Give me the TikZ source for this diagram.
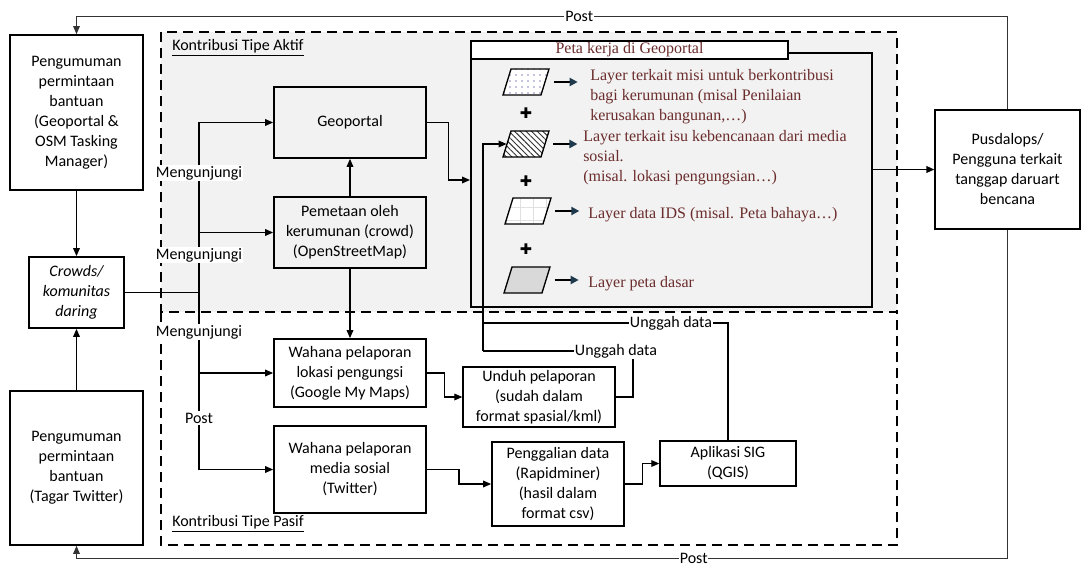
\documentclass[tikz,border=0pt]{standalone}
\usepackage{fontspec}
\setmainfont{Carlito}
\newfontfamily\layerfont{Liberation Serif}
\newfontfamily\symfont{DejaVu Sans}
\usepackage{xcolor}
\usetikzlibrary{arrows.meta}
\usetikzlibrary{calc}
\usetikzlibrary{positioning}
\usetikzlibrary{shapes.geometric}
\usetikzlibrary{patterns.meta}

\definecolor{bgaktif}{HTML}{F2F2F2}
\definecolor{layertxt}{HTML}{6B2C2C}
\definecolor{tipblue}{HTML}{1F3A4D}
\definecolor{dasar}{HTML}{D9D9D9}

\begin{document}
\begin{tikzpicture}[x=0.75pt, y=-0.75pt]

    % Custom styles
    \tikzstyle{box} = [draw, line width=1.3pt, align=center, inner sep=1pt, font=\fontsize{12}{15}\selectfont]
    \tikzstyle{thinbox} = [box, line width=1pt]
    \tikzstyle{arr} = [-{Triangle[length=6pt,width=5pt]}, line width=0.9pt]
    \tikzstyle{line} = [line width=0.9pt]
    \tikzstyle{postline} = [line width=0.7pt, draw=black!80]
    \tikzstyle{lbl} = [fill=white, inner sep=1pt, font=\fontsize{12}{15}\selectfont]
    \tikzstyle{dashbox} = [dash pattern=on 7.5pt off 4.5pt, line width=1.4pt]
    \tikzstyle{layer} = [draw, line width=1pt, trapezium, trapezium left angle=75, trapezium right angle=105, trapezium stretches=true, minimum width=46*0.75pt, minimum height=26*0.75pt, inner sep=2pt]
    \tikzstyle{layertext} = [font=\layerfont\fontsize{12}{15}\selectfont, text=layertxt, align=left, inner sep=0pt]
    \tikzstyle{smallarr} = [-{Triangle[length=6pt,width=6pt,color=tipblue]}, line width=1.6pt]

    \useasboundingbox (0,0) rectangle (1081,567);

    % Contribution areas
    \draw[dashbox, fill=bgaktif] (161,32) rectangle (897,312);
    \draw[dashbox] (161,312) rectangle (897,545);
    \node[anchor=west, inner sep=0pt, font=\fontsize{12}{15}\selectfont] (aktif) at (172,48) {\underline{Kontribusi Tipe Aktif}};
    \node[anchor=west, inner sep=0pt, font=\fontsize{12}{15}\selectfont] (pasif) at (172,524) {\underline{Kontribusi Tipe Pasif}};

    % Define nodes
    \node[box, minimum width=133*0.75pt, minimum height=155*0.75pt] (ann1) at (76.5,112.5) {Pengumuman\\permintaan\\bantuan\\(Geoportal \&\\OSM Tasking\\Manager)};
    \node[box, font=\fontsize{12}{15}\selectfont\itshape, minimum width=95*0.75pt, minimum height=71*0.75pt, below=48.95pt of ann1] (crowd) {Crowds/\\komunitas\\daring};
    \node[box, minimum width=133*0.75pt, minimum height=154*0.75pt, below=45.95pt of crowd] (ann2) {Pengumuman\\permintaan\\bantuan\\(Tagar Twitter)};

    \node[box, minimum width=152*0.75pt, minimum height=71*0.75pt] (geo) at (350,122.5) {Geoportal};
    \node[box, minimum width=152*0.75pt, minimum height=71*0.75pt, below=27.95pt of geo] (osm) {Pemetaan oleh\\kerumunan (crowd)\\(OpenStreetMap)};
    \node[box, minimum width=152*0.75pt, minimum height=68*0.75pt, below=51.95pt of osm] (gmm) {Wahana pelaporan\\lokasi pengungsi\\(Google My Maps)};
    \node[box, minimum width=152*0.75pt, minimum height=87*0.75pt, below=12.95pt of gmm] (twt) {Wahana pelaporan\\media sosial\\(Twitter)};

    \node[thinbox, minimum width=152*0.75pt, minimum height=60*0.75pt] (unduh) at (539,397) {Unduh pelaporan\\(sudah dalam\\format spasial/kml)};
    \node[box, minimum width=132*0.75pt, minimum height=84*0.75pt] (gali) at (558,484) {Penggalian data\\(Rapidminer)\\(hasil dalam\\format csv)};
    \node[thinbox, minimum width=136*0.75pt, minimum height=45*0.75pt] (sig) at (728,463.5) {Aplikasi SIG\\(QGIS)};
    \node[thinbox, fill=white, minimum width=145*0.75pt, minimum height=119*0.75pt] (pusd) at (1007.5,169.5) {Pusdalops/\\Pengguna terkait\\tanggap daruart\\bencana};

    % Peta kerja
    \node[draw, line width=1.5pt, fill=bgaktif, minimum width=401*0.75pt, minimum height=254*0.75pt, inner sep=0pt] (peta) at (671.5,180) {};
    \node[draw, line width=1.2pt, fill=white, minimum width=317*0.75pt, minimum height=18*0.75pt, layertext] (petatitle) at (629.5,50) {Peta kerja di Geoportal};

    \node[layer, preaction={fill=white}, pattern={Dots[distance=4.5pt, radius=0.45pt]}, pattern color=blue!45!black] (l1) at (526,82) {};
    \node[layer, preaction={fill=white}, pattern={Lines[angle=-45, distance=3pt, line width=0.7pt]}, pattern color=black!80] (l2) at (526,144) {};
    \node[layer, preaction={fill=white}, pattern={Hatch[angle=0, distance=10pt, line width=0.5pt]}, pattern color=black!12] (l3) at (528,211) {};
    \node[layer, fill=dasar] (l4) at (527,280) {};

    \foreach \y [count=\i] in {113,181,249}
        \node[inner sep=0pt, font=\symfont\fontsize{11}{11}\selectfont] (plus\i) at (526,\y) {✚};

    \node[layertext, anchor=north west] (t1) at (590,69) {Layer terkait misi untuk berkontribusi\\bagi kerumunan (misal Penilaian\\kerusakan bangunan,…)};
    \node[layertext, anchor=north west] (t2) at (583,130) {Layer terkait isu kebencanaan dari media\\sosial.\\(misal. lokasi pengungsian…)};
    \node[layertext, anchor=west] (t3) at (588,215) {Layer data IDS (misal. Peta bahaya…)};
    \node[layertext, anchor=west] (t4) at (588,284) {Layer peta dasar};

    \foreach \i in {1,...,4}
        \draw[smallarr] ([xshift=6pt]l\i.east) -- ([xshift=24pt]l\i.east);

    % Connect nodes
    \coordinate (topY) at (0,16);
    \coordinate (botY) at (0,558);
    \draw[postline, -{Triangle[length=6pt,width=5pt]}] (pusd.north) -- (pusd.north |- topY) -- node[lbl, pos=0.46] (post1) {Post} (ann1.north |- topY) -- (ann1.north);
    \draw[postline, -{Triangle[length=6pt,width=5pt]}] (pusd.south) -- (pusd.south |- botY) -- node[lbl, pos=0.337, inner sep=0.5pt] (post2) {Post} (ann2.south |- botY) -- (ann2.south);

    \draw[arr] (ann1) -- (crowd);
    \draw[arr] (ann2) -- (crowd);

    \coordinate (tk) at (199,292.5);
    \draw[line] (crowd.east) -- (crowd.east -| tk);
    \draw[arr] (crowd.east -| tk) |- (geo.west);
    \draw[arr] (crowd.east -| tk) |- (osm.west);
    \draw[arr] (crowd.east -| tk) |- (gmm.west);
    \draw[arr] (crowd.east -| tk) |- (twt.west);

    \draw[arr] (osm) -- (geo);
    \draw[arr] (osm) -- (gmm);
    \draw[arr] (gmm.east) -| ($(gmm.east)!0.5!(unduh.west)$) |- (unduh.west);
    \draw[arr] (twt.east) -| ($(twt.east)!0.5!(gali.west)$) |- (gali.west);
    \draw[arr] (gali.east) -| ($(gali.east)!0.5!(sig.west)$) |- (sig.west);
    \draw[arr] (geo.east) -| ($(geo.east)!0.5!(peta.west)$) |- (peta.west);
    \draw[arr, line width=1.2pt] (peta.east |- pusd.west) -- (pusd.west);

    \coordinate (ug1) at (633,351);
    \coordinate (ug2) at (727,323);
    \coordinate (bus) at (483,351);
    \draw[line] (unduh.east) -| (ug1) -- (bus);
    \draw[line] (sig.north) |- (ug2 -| bus);
    \draw[arr] (bus) |- (l2.west);

    % Labels on connectors
    \node[lbl] (m1) at (199,173) {Mengunjungi};
    \node[lbl] (m2) at (199,255) {Mengunjungi};
    \node[lbl] (m3) at (199,332) {Mengunjungi};
    \node[lbl] (p1) at (199,418) {Post};
    \node[lbl] (u1) at (616,351) {Unggah data};
    \node[lbl] (u2) at (671,323) {Unggah data};

\end{tikzpicture}
\end{document}
